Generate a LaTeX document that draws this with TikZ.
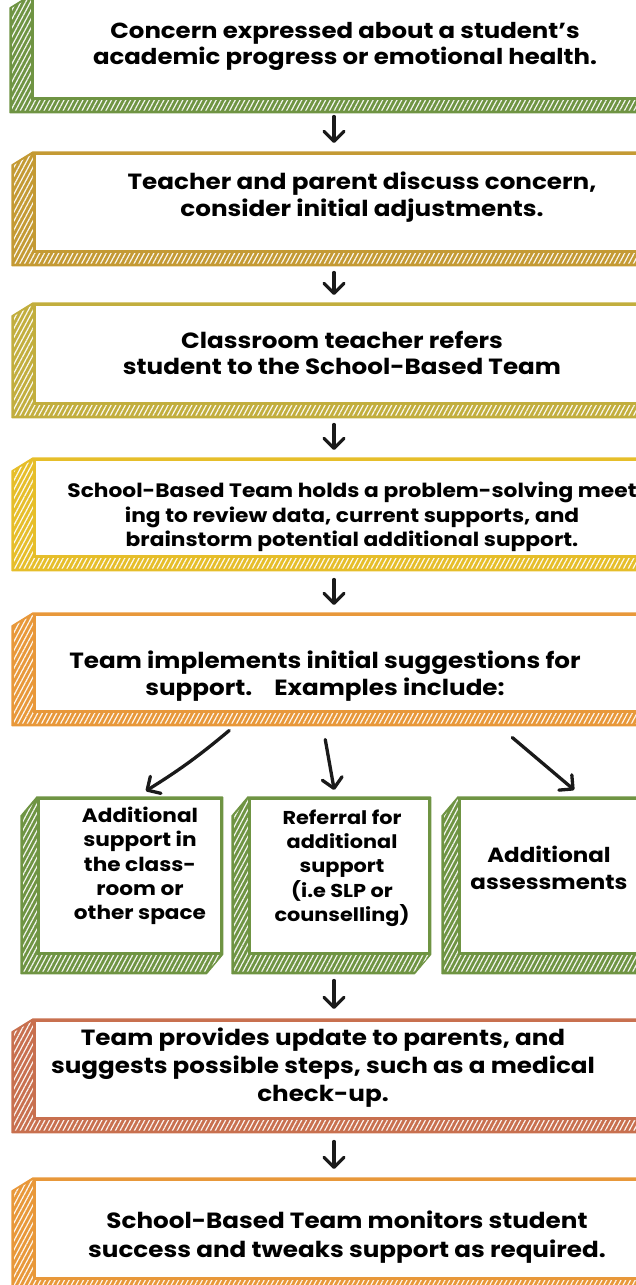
\documentclass[tikz,border=0pt]{standalone}
\usepackage{fontspec}
\setmainfont{Poppins}[FakeStretch=1.12]
\usetikzlibrary{arrows.meta,patterns.meta,backgrounds,calc}
\definecolor{cgreen}{HTML}{6F9443}
\definecolor{cgold}{HTML}{C49A34}
\definecolor{colive}{HTML}{C2AE3E}
\definecolor{cyellow}{HTML}{E6BE2A}
\definecolor{corange}{HTML}{E8983A}
\definecolor{cred}{HTML}{C8704F}
\definecolor{ink}{HTML}{1A1A1A}
\tikzset{
  face/.style={draw=#1, line width=2.5pt, fill=white, rectangle, anchor=north west, inner sep=0pt},
  txt/.style={align=center, font=\bfseries\fontsize{22}{26.5}\selectfont, text=black},
  arr/.style={draw=ink, line width=3.3pt, line cap=round, -{Straight Barb[length=10pt,width=20pt,line cap=round,line join=round]}},
}
% extrusion: node name, colour, dx, dy
\newcommand{\extrude}[4]{%
  \path[fill=#2, draw=#2, line width=1.5pt, line join=round]
    ($(#1.north west)+(-#3,#4)$) -- (#1.north west) -- (#1.north east) -- (#1.south east)
    -- ($(#1.south east)+(-#3,#4)$) -- ($(#1.south west)+(-#3,#4)$) -- cycle;
  \path[pattern={Lines[angle=62,distance=4.2pt,line width=1.2pt]}, pattern color=white!92!#2]
    ($(#1.north west)+(-#3+2,#4)$) -- ($(#1.north west)+(0,2)$) -- ($(#1.south west)+(0,0)$)
    -- ($(#1.south east)+(0,0)$) -- ($(#1.south east)+(-#3,#4-2)$) -- ($(#1.south west)+(-#3+2,#4-2)$) -- cycle;
}
\begin{document}
\begin{tikzpicture}[x=1pt,y=-1pt]
\useasboundingbox (0,0) rectangle (636,1285);
\clip (0,0) rectangle (636,1285);
\coordinate (ax) at (334,0);
% main boxes
\node[face=cgreen, minimum width=670pt, minimum height=102pt] (b1) at (31,-5) {};
\node[face=cgold, minimum width=670pt, minimum height=98pt] (b2) at (33,152) {};
\node[face=colive, minimum width=670pt, minimum height=99pt] (b3) at (33,303) {};
\node[face=cyellow, minimum width=670pt, minimum height=97pt] (b4) at (33,458) {};
\node[face=corange, minimum width=670pt, minimum height=97pt] (b5) at (33,613) {};
\node[face=cgreen, minimum width=183pt, minimum height=155pt] (sa) at (37,797) {};
\node[face=cgreen, minimum width=180pt, minimum height=155pt] (sb) at (248,797) {};
\node[face=cgreen, minimum width=250pt, minimum height=155pt] (sc) at (458,797) {};
\node[face=cred, minimum width=670pt, minimum height=98pt] (b7) at (33,1019) {};
\node[face=corange, minimum width=670pt, minimum height=99pt] (b8) at (33,1178) {};
\begin{scope}[on background layer]
\extrude{b1}{cgreen}{21}{13}
\extrude{b2}{cgold}{21}{13}
\extrude{b3}{colive}{21}{13}
\extrude{b4}{cyellow}{21}{13}
\extrude{b5}{corange}{21}{13}
\extrude{sa}{cgreen}{16}{19}
\extrude{sb}{cgreen}{16}{19}
\extrude{sc}{cgreen}{16}{19}
\extrude{b7}{cred}{21}{13}
\extrude{b8}{corange}{21}{13}
\end{scope}
% texts
\node[txt, font=\bfseries\fontsize{21.8}{26}\selectfont] (t1) at (345,46) {Concern expressed about a student’s\\academic progress or emotional health.};
\node[txt] (t2) at (362,197) {Teacher and parent discuss concern,\\consider initial adjustments.};
\node[txt] (t3) at (342,353) {Classroom teacher refers\\student to the School-Based Team};
\node[txt, font=\bfseries\fontsize{19.4}{24.5}\selectfont] (t4) at (352,517) {School-Based Team holds a problem-solving meet\\ing to review data, current supports, and\\brainstorm potential additional support.};
\node[txt] (t5) at (325,676) {Team implements initial suggestions for\\support.\quad Examples include:};
\node[txt, font=\bfseries\fontsize{19.3}{24.3}\selectfont] (ta) at (140,866) {Additional\\support in\\the class-\\room or\\other space};
\node[txt, font=\bfseries\fontsize{18.6}{24.3}\selectfont] (tb) at (342,868) {Referral for\\additional\\support\\(i.e SLP or\\counselling)};
\node[txt, font=\bfseries\fontsize{20.5}{27}\selectfont] (tc) at (549,868) {Additional\\assessments};
\node[txt, font=\bfseries\fontsize{22}{28}\selectfont] (t7) at (323,1068) {Team provides update to parents, and\\suggests possible steps, such as a medical\\check-up.};
\node[txt, font=\bfseries\fontsize{22}{28.5}\selectfont] (t8) at (347,1237) {School-Based Team monitors student\\success and tweaks support as required.};
% arrows
\draw[arr] ($(b1.south -| ax)+(0,17)$) -- ($(b2.north -| ax)+(0,-9)$);
\draw[arr] ($(b2.south -| ax)+(0,20)$) -- ($(b3.north -| ax)+(0,-8)$);
\draw[arr] ($(b3.south -| ax)+(0,20)$) -- ($(b4.north -| ax)+(0,-8)$);
\draw[arr] ($(b4.south -| ax)+(0,22)$) -- ($(b5.north -| ax)+(0,-8)$);
\draw[arr] ($(b5.south)+(-140,18)$) to[bend left=4] ($(sa.north)+(16,-6)$);
\draw[arr] ($(b5.south)+(-44,27)$) -- ($(sb.north)+(-5,-7)$);
\draw[arr] ($(b5.south)+(143,25)$) -- ($(sc.north)+(-10,-7)$);
\draw[arr] ($(sb.south -| ax)+(0,26)$) -- ($(b7.north -| ax)+(0,-10)$);
\draw[arr] ($(b7.south -| ax)+(0,22)$) -- ($(b8.north -| ax)+(0,-9)$);
\end{tikzpicture}
\end{document}
